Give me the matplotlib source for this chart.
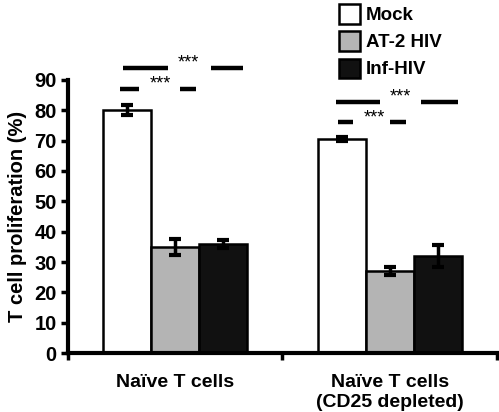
import matplotlib
matplotlib.use("Agg")
import matplotlib.pyplot as plt
from matplotlib.patches import Patch

plt.rcParams['font.family'] = ['Liberation Sans', 'DejaVu Sans']
plt.rcParams['font.weight'] = 'bold'

groups = ["Naïve T cells", "Naïve T cells\n(CD25 depleted)"]
series = ["Mock", "AT-2 HIV", "Inf-HIV"]
values = {
    "Mock": [80.0, 70.5],
    "AT-2 HIV": [35.0, 27.0],
    "Inf-HIV": [36.0, 32.0],
}
errors = {
    "Mock": [1.7, 0.6],
    "AT-2 HIV": [2.6, 1.2],
    "Inf-HIV": [1.4, 3.5],
}
colors = {"Mock": "white", "AT-2 HIV": "#b4b4b4", "Inf-HIV": "#111111"}
yticks = [0, 10, 20, 30, 40, 50, 60, 70, 80, 90]
sig_label = "***"

fig = plt.figure(figsize=(4.99, 4.12), dpi=100)
ax = fig.add_axes([0.136, 0.143, 0.86, 0.663])

width = 0.224
centers = [0.5, 1.5]
for i, s in enumerate(series):
    off = (i - 1) * width
    xs = [c + off for c in centers]
    ax.bar(xs, values[s], width=width, color=colors[s], edgecolor="black",
           linewidth=1.8, zorder=2)
    ax.errorbar(xs, values[s], yerr=errors[s], fmt="none", ecolor="black",
                elinewidth=2.5, capsize=4, capthick=3, zorder=3)

ax.set_xlim(0, 2)
ax.set_ylim(0, 90)
ax.set_yticks(yticks)
ax.set_yticklabels([str(t) for t in yticks], fontsize=14.5, fontweight="bold")
ax.set_xticks([0, 1, 2])
ax.set_xticklabels([])
ax.tick_params(axis="both", direction="out", length=5, width=2.5, color="black", pad=3)
for sp in ["top", "right"]:
    ax.spines[sp].set_visible(False)
for sp in ["left", "bottom"]:
    ax.spines[sp].set_linewidth(3)

ax.set_ylabel("T cell proliferation (%)", fontsize=14.5, fontweight="bold", labelpad=5)

for c, g in zip(centers, groups):
    ax.text(c, -7.0, g, ha="center", va="top", fontsize=14, fontweight="bold",
            linespacing=1.2)

# significance brackets
def sig(x1, x2, x3, x4, xt, y):
    ax.plot([x1, x2], [y, y], color="black", lw=3.2, clip_on=False, solid_capstyle="butt")
    ax.plot([x3, x4], [y, y], color="black", lw=3.2, clip_on=False, solid_capstyle="butt")
    ax.text(xt, y + 1.6, sig_label, ha="center", va="center", fontsize=13,
            fontweight="normal", clip_on=False)

sig(0.256, 0.466, 0.667, 0.816, 0.56, 94.0)
sig(0.242, 0.331, 0.522, 0.597, 0.429, 87.0)
sig(1.249, 1.455, 1.646, 1.818, 1.548, 82.8)
sig(1.259, 1.329, 1.501, 1.576, 1.427, 76.0)

handles = [Patch(facecolor=colors[s], edgecolor="black", linewidth=1.8, label=s)
           for s in series]
fig.legend(handles=handles, loc="upper left", bbox_to_anchor=(0.66, 1.012),
           frameon=False, borderpad=0, handlelength=1.15, handleheight=1.2,
           labelspacing=0.38, handletextpad=0.3,
           prop={"size": 13.5, "weight": "bold"})

fig.savefig("out.png", dpi=100)
